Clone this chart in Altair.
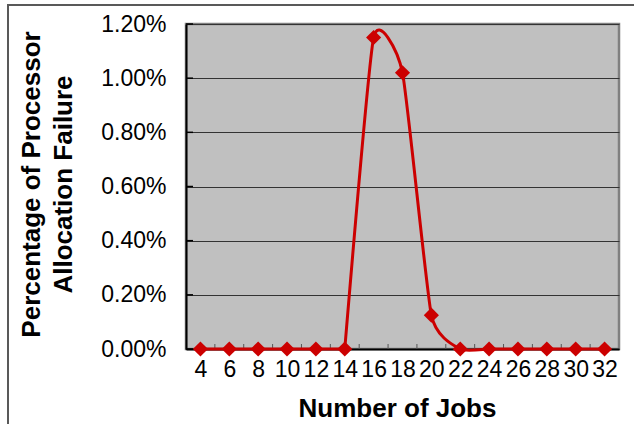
import altair as alt
import pandas as pd

# Number of jobs on the x axis
jobs = [4, 6, 8, 10, 12, 14, 16, 18, 20, 22, 24, 26, 28, 30, 32]
# Fraction of processor allocation failures for each job count
failure = [0, 0, 0, 0, 0, 0, 0.0115, 0.0102, 0.00125, 0, 0, 0, 0, 0, 0]
# Y axis tick values (0% .. 1.2%)
y_ticks = [0, 0.002, 0.004, 0.006, 0.008, 0.010, 0.012]

RED = "#CC0000"
FONT = "Liberation Sans"
ONSET = 14  # last job count before failures appear

df = pd.DataFrame({"jobs": jobs, "pct": failure})
# inner tick marks sit halfway between neighbouring categories
bounds = pd.DataFrame({"jobs": [j + 1 for j in jobs[:-1]]})
yt = pd.DataFrame({"pct": y_ticks})

x_scale = alt.Scale(domain=[3, 33], nice=False, zero=False)
y_scale = alt.Scale(domain=[0, 0.012], nice=False)

x_axis = alt.Axis(
    values=jobs, format="d", title="Number of Jobs",
    labelFontSize=23, labelPadding=9, labelOverlap=False, labelFlush=False,
    ticks=False, grid=False, domainColor="black", domainWidth=2,
    titleFontSize=26, titleFontWeight="bold", titleX=211, titleY=67,
    titleBaseline="alphabetic", titleAlign="center",
)
y_axis = alt.Axis(
    values=y_ticks, format=".2%",
    title=["Percentage of Processor", "Allocation Failure"],
    labelFontSize=23, labelPadding=20, labelOverlap=False, labelFlush=False,
    ticks=False, grid=True, gridColor="#333333", gridWidth=1,
    domainColor="black", domainWidth=2,
    titleFontSize=26, titleFontWeight="bold", titleLineHeight=32,
    titleX=-168, titleY=160, titleBaseline="top", titleAlign="center",
)

X = alt.X("jobs:Q", scale=x_scale, axis=x_axis)
Y = alt.Y("pct:Q", scale=y_scale, axis=y_axis)

frame = alt.Chart(alt.Data(values=[{}])).mark_rect(
    filled=False, stroke="#595959", strokeWidth=2
).encode(
    x=alt.value(-178), x2=alt.value(470), y=alt.value(-19), y2=alt.value(430)
)

y_tick_marks = alt.Chart(yt).mark_rule(color="black", strokeWidth=1.5).encode(
    y=Y, x=alt.value(0), x2=alt.value(7)
)

x_tick_marks = alt.Chart(bounds).mark_rule(color="#555555", strokeWidth=1).encode(
    x=X, y=alt.value(325), y2=alt.value(320)
)

# flat stretch before the onset is straight, the rest is smoothed
flat = alt.Chart(df).mark_line(color=RED, strokeWidth=3).encode(
    x=X, y=Y
).transform_filter(alt.datum.jobs <= ONSET)

smooth = alt.Chart(df).mark_line(
    color=RED, strokeWidth=3, interpolate="cardinal", tension=0.5
).encode(x=X, y=Y).transform_filter(alt.datum.jobs >= ONSET)

points = alt.Chart(df).mark_point(
    shape="diamond", filled=True, color=RED, size=230, opacity=1
).encode(x=X, y=Y)

chart = alt.layer(frame, y_tick_marks, x_tick_marks, flat, smooth, points).properties(
    width=433, height=325,
    autosize=alt.AutoSizeParams(type="none"),
    padding={"left": 186, "top": 24, "right": 15, "bottom": 75},
    background="white",
).configure_view(
    fill="#C0C0C0", stroke="#808080", strokeWidth=2.5
).configure_axis(
    labelFont=FONT, titleFont=FONT, labelColor="black", titleColor="black"
)

chart.save("out.html", embed_options={"renderer": "svg", "actions": False})
